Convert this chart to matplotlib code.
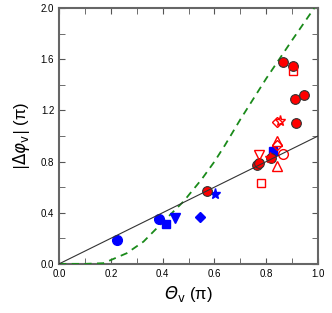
import matplotlib.pyplot as plt
import matplotlib as mpl

mpl.rcParams['font.family'] = ['Liberation Sans', 'DejaVu Sans']
mpl.rcParams['mathtext.fontset'] = 'custom'
mpl.rcParams['mathtext.rm'] = 'DejaVu Sans'
mpl.rcParams['mathtext.it'] = 'DejaVu Sans:italic'
mpl.rcParams['mathtext.sf'] = 'DejaVu Sans:italic'  # used for the italic capital Theta

# theory curves
lin_x = [0.0, 1.0]
lin_y = [0.0, 1.0]
th_x = [0.0, 0.1, 0.171, 0.261, 0.326, 0.39, 0.48, 0.55, 0.6, 0.641, 0.7, 0.8, 0.9, 0.985]
th_y = [0.0, 0.0, 0.005, 0.083, 0.174, 0.305, 0.487, 0.66, 0.80, 0.93, 1.13, 1.45, 1.75, 2.0]

# blue data
b_circ_x = [0.224, 0.386]; b_circ_y = [0.19, 0.35]
b_sq_x = [0.412, 0.827]; b_sq_y = [0.31, 0.885]
b_tri_x = [0.448]; b_tri_y = [0.36]
b_dia_x = [0.544]; b_dia_y = [0.37]
b_star_x = [0.602]; b_star_y = [0.55]

# red data
r_circ_x = [0.570, 0.763, 0.772, 0.82, 0.866, 0.902, 0.911, 0.946, 0.914]
r_circ_y = [0.573, 0.773, 0.79, 0.83, 1.576, 1.549, 1.289, 1.318, 1.10]
r_sq_x = [0.779, 0.905]; r_sq_y = [0.63, 1.51]
r_tdn_x = [0.772]; r_tdn_y = [0.85]
r_tup_x = [0.843, 0.842]; r_tup_y = [0.766, 0.96]
r_dia_x = [0.842, 0.843]; r_dia_y = [0.93, 1.107]
r_ocirc_x = [0.864]; r_ocirc_y = [0.86]
r_star_x = [0.815, 0.853]; r_star_y = [0.83, 1.12]

fig = plt.figure(figsize=(3.32, 3.13), dpi=100)
ax = fig.add_axes([0.178, 0.157, 0.780, 0.817])

ms = 7
ax.plot(b_circ_x, b_circ_y, 'o', color='blue', ms=ms, zorder=3)
ax.plot(b_sq_x, b_sq_y, 's', color='blue', ms=6, zorder=3)
ax.plot(b_tri_x, b_tri_y, 'v', color='blue', ms=ms, zorder=3)
ax.plot(b_dia_x, b_dia_y, 'D', color='blue', ms=5.5, zorder=3)
ax.plot(b_star_x, b_star_y, '*', color='blue', ms=8, zorder=3)

ax.plot(r_circ_x, r_circ_y, 'o', color='red', mec='#333333', mew=0.8, ms=ms, zorder=3)
ax.plot(r_sq_x, r_sq_y, 's', mfc='none', mec='red', mew=1.0, ms=6, zorder=3)
ax.plot(r_tdn_x, r_tdn_y, 'v', mfc='none', mec='red', mew=1.0, ms=ms, zorder=3)
ax.plot(r_tup_x, r_tup_y, '^', mfc='none', mec='red', mew=1.0, ms=ms, zorder=3)
ax.plot(r_dia_x, r_dia_y, 'D', mfc='none', mec='red', mew=1.0, ms=5.5, zorder=3)
ax.plot(r_ocirc_x, r_ocirc_y, 'o', mfc='none', mec='red', mew=1.0, ms=ms, zorder=3)
ax.plot(r_star_x, r_star_y, '*', mfc='none', mec='red', mew=1.0, ms=8, zorder=3)

ax.plot(lin_x, lin_y, '-', color='#333333', lw=0.8, zorder=4)
ax.plot(th_x, th_y, '--', color='#1a8a1a', lw=1.3, dashes=(4, 3), zorder=2.6)

ax.set_xlim(0, 1)
ax.set_ylim(0, 2)
ax.set_xticks([0, 0.2, 0.4, 0.6, 0.8, 1.0])
ax.set_xticks([0.1, 0.3, 0.5, 0.7, 0.9], minor=True)
ax.set_yticks([0, 0.4, 0.8, 1.2, 1.6, 2.0])
ax.set_yticks([0.2, 0.6, 1.0, 1.4, 1.8], minor=True)
ax.xaxis.set_major_formatter(mpl.ticker.FormatStrFormatter('%.1f'))
ax.yaxis.set_major_formatter(mpl.ticker.FormatStrFormatter('%.1f'))
ax.tick_params(which='both', direction='in', top=True, right=True, labelsize=7, color='#555555', length=4)
for s in ax.spines.values():
    s.set_color('#666666')
    s.set_linewidth(1.5)

ax.set_xlabel(r'$\mathsf{\Theta}_{\rm v}$ (π)', fontsize=12, labelpad=4)
ax.set_ylabel(r'$\left|\Delta\varphi_{\rm v}\right|$ (π)', fontsize=12, labelpad=6)

plt.savefig("out.png", dpi=100)
